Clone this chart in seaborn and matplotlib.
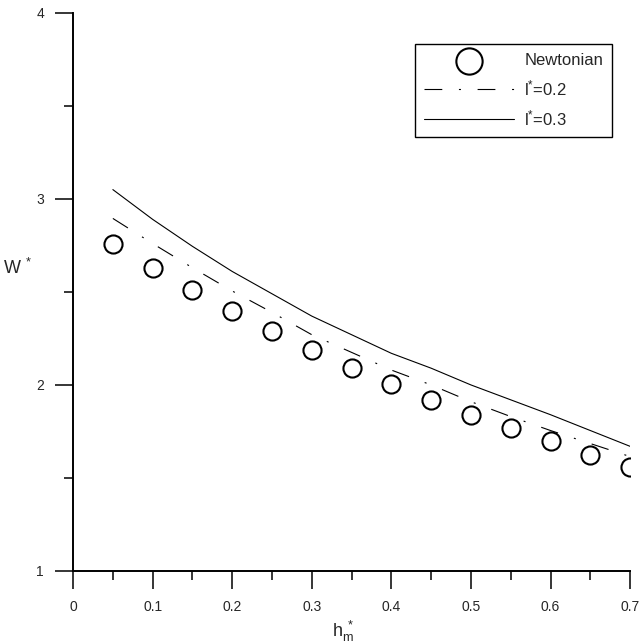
import matplotlib
matplotlib.use('Agg')
import matplotlib.pyplot as plt
from matplotlib.ticker import MultipleLocator
import seaborn as sns

# values
hm = [0.05, 0.10, 0.15, 0.20, 0.25, 0.30, 0.35, 0.40, 0.45, 0.50, 0.55, 0.60, 0.65, 0.70]
w_newtonian = [2.76, 2.63, 2.51, 2.40, 2.29, 2.19, 2.09, 2.005, 1.92, 1.84, 1.77, 1.70, 1.625, 1.56]
w_l02 = [2.895, 2.76, 2.63, 2.505, 2.39, 2.27, 2.175, 2.08, 2.00, 1.91, 1.83, 1.755, 1.685, 1.615]
w_l03 = [3.05, 2.89, 2.745, 2.61, 2.49, 2.37, 2.27, 2.17, 2.09, 2.00, 1.92, 1.84, 1.755, 1.67]

xticks = [0, 0.1, 0.2, 0.3, 0.4, 0.5, 0.6, 0.7]
xticklabels = ['0', '0.1', '0.2', '0.3', '0.4', '0.5', '0.6', '0.7']
yticks = [1, 2, 3, 4]
yticklabels = ['1', '2', '3', '4']

sns.set_style('ticks')
plt.rcParams['font.family'] = ['Liberation Sans', 'DejaVu Sans']
plt.rcParams['mathtext.fontset'] = 'custom'
plt.rcParams['mathtext.rm'] = 'Liberation Sans'
plt.rcParams['mathtext.it'] = 'Liberation Sans'

fig = plt.figure(figsize=(6.41, 6.43), dpi=100)
ax = fig.add_axes([0.114, 0.112, 0.869, 0.868])

sns.scatterplot(x=hm, y=w_newtonian, ax=ax, s=170, marker='o', facecolor='white',
                edgecolor='black', linewidth=1.5, label='Newtonian', zorder=3)
sns.lineplot(x=hm, y=w_l02, ax=ax, color='black', lw=0.8,
             linestyle=(0, (16, 15, 1.8, 15)), label=r'$\mathregular{l^{*}}$=0.2')
sns.lineplot(x=hm, y=w_l03, ax=ax, color='black', lw=0.8,
             label=r'$\mathregular{l^{*}}$=0.3')

ax.set_xlim(0, 0.7)
ax.set_ylim(1, 4)
ax.set_xticks(xticks)
ax.set_xticklabels(xticklabels)
ax.set_yticks(yticks)
ax.set_yticklabels(yticklabels)
ax.xaxis.set_minor_locator(MultipleLocator(0.05))
ax.yaxis.set_minor_locator(MultipleLocator(0.5))
ax.tick_params(which='major', length=13, width=1.1, labelsize=10, color='black', pad=8)
ax.tick_params(which='minor', length=6.5, width=1.1, color='black')
for side in ['top', 'right']:
    ax.spines[side].set_visible(False)
for side in ['left', 'bottom']:
    ax.spines[side].set_linewidth(1.4)
    ax.spines[side].set_color('black')

ax.set_xlabel(r'$\mathregular{h_m^{\ *}}$', fontsize=13)
ax.xaxis.set_label_coords(0.485, -0.085)
ax.set_ylabel(r'$\mathregular{W^{\ *}}$', fontsize=13, rotation=0, ha='center', va='center')
ax.yaxis.set_label_coords(-0.1, 0.543)

leg = ax.legend(loc='upper right', bbox_to_anchor=(0.968, 0.944), borderaxespad=0,
                fontsize=12, handlelength=5.4, labelspacing=0.6, markerscale=1.45,
                fancybox=False, framealpha=1, borderpad=0.55, handletextpad=0.6)
leg.get_frame().set_edgecolor('black')
leg.get_frame().set_linewidth(1.0)

fig.savefig('out.png', dpi=100)
